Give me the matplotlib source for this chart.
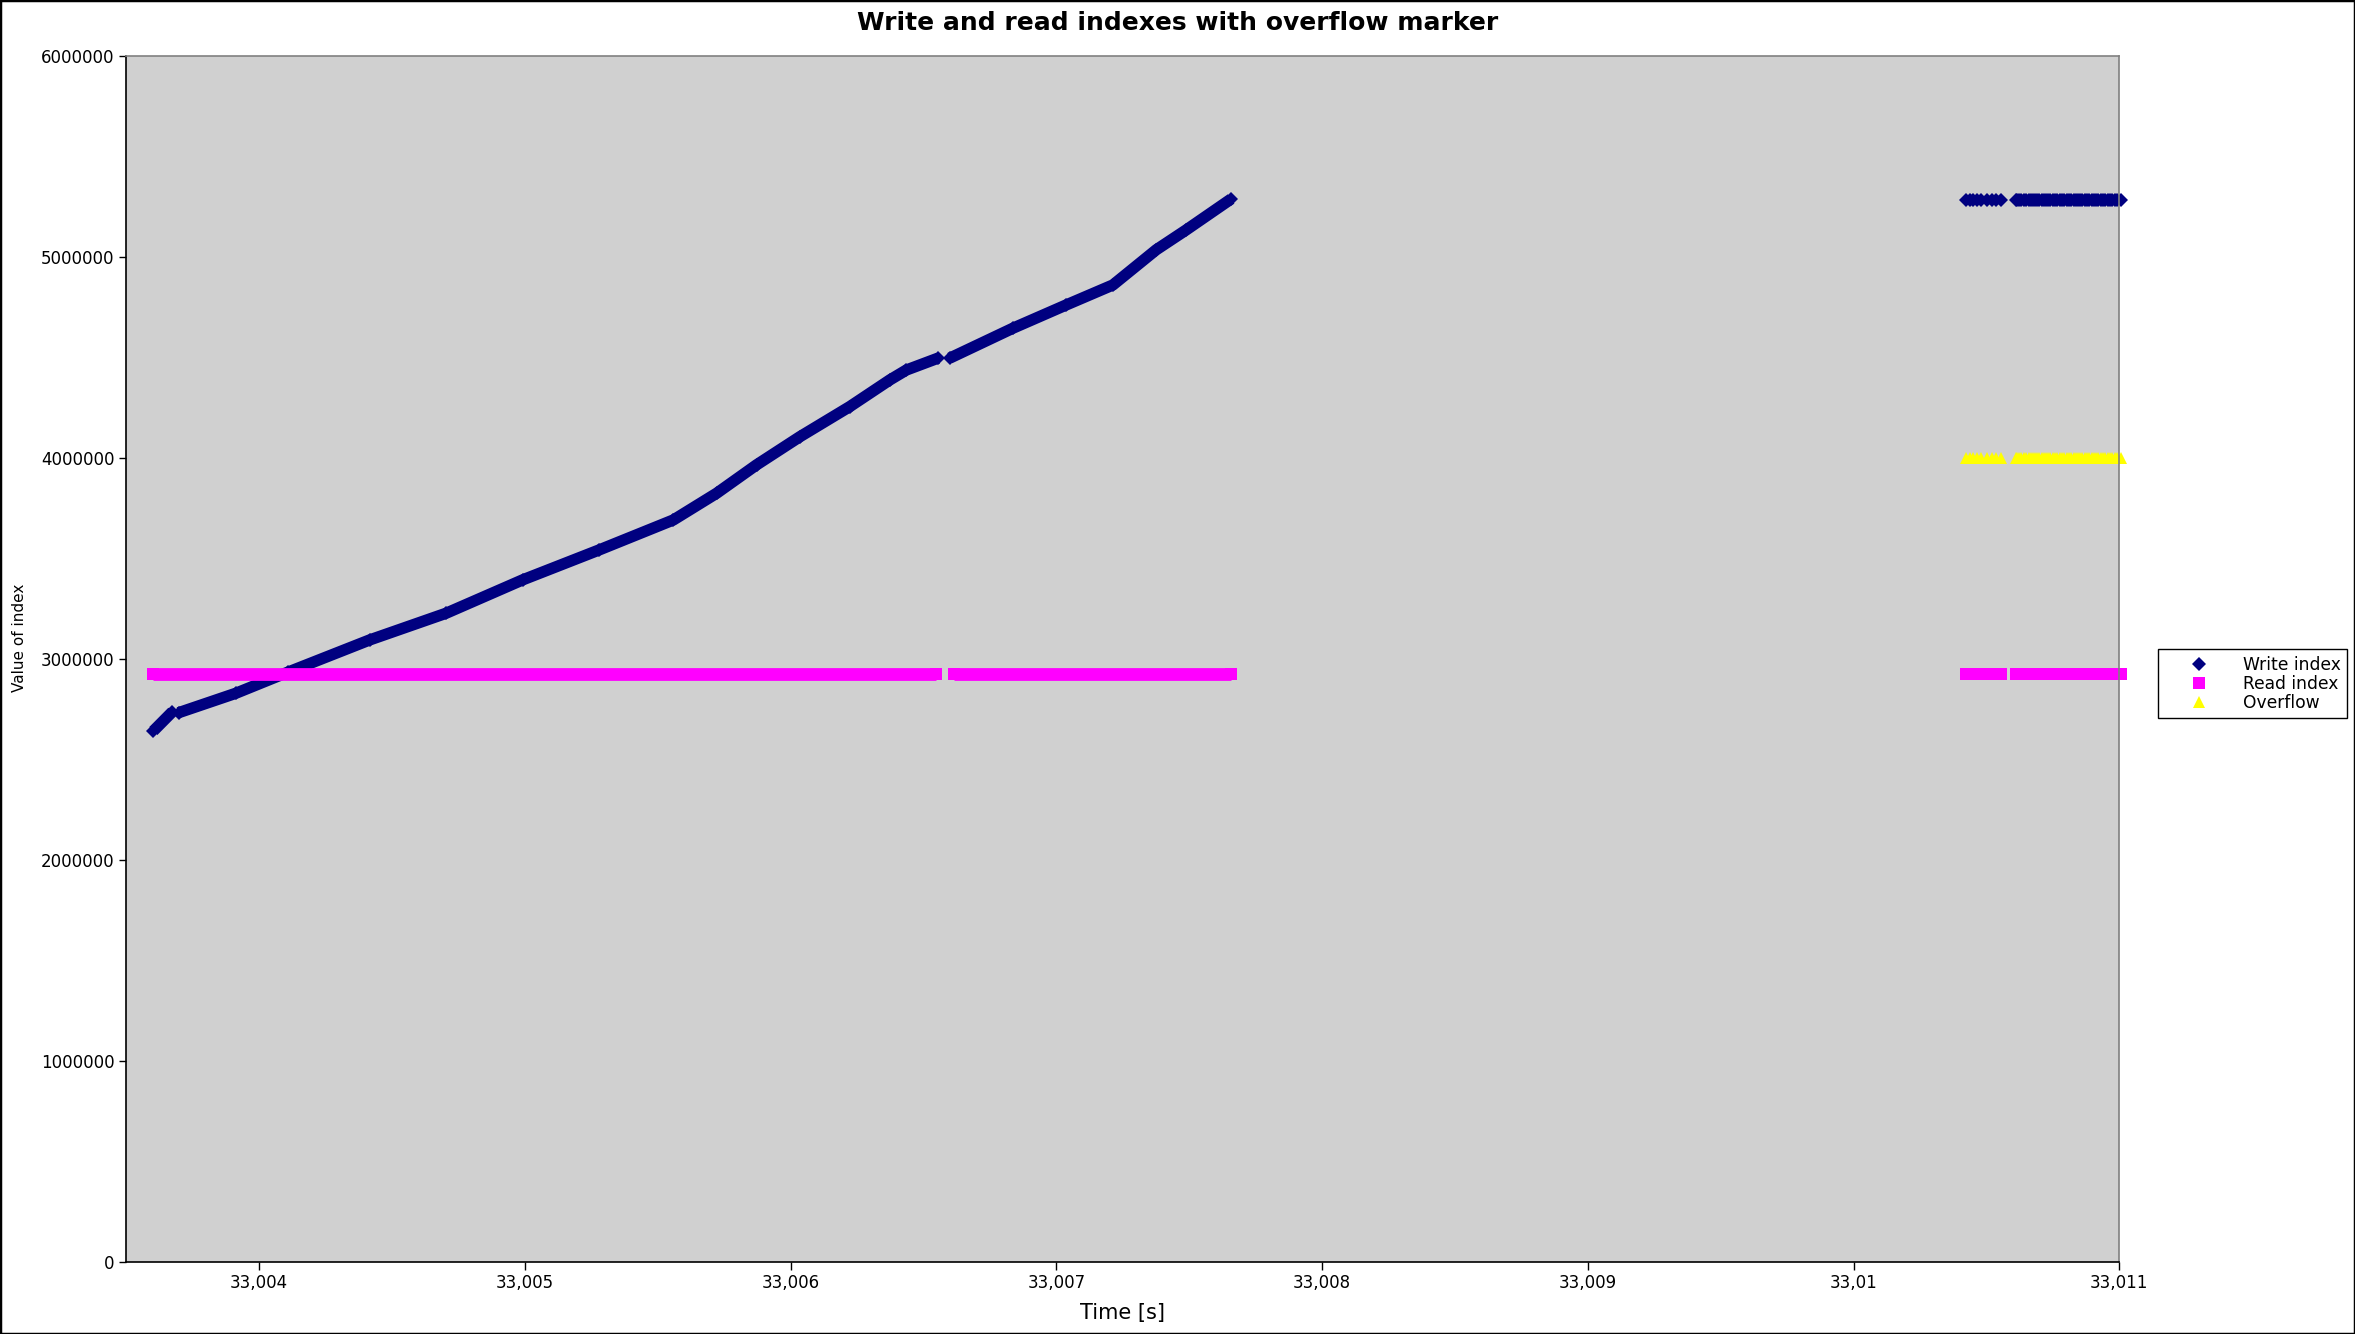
import matplotlib
matplotlib.use("Agg")
import matplotlib.pyplot as plt
from matplotlib.lines import Line2D
from matplotlib.patches import Rectangle

# ---------------- data ----------------
series_names = ["Write index", "Read index", "Overflow"]

# Write index, left run, split at the gaps
write_t_seg1 = [33.003602, 33.003674]
write_v_seg1 = [2640000, 2736000]
write_t_seg2 = [33.003697, 33.003913, 33.004107, 33.004416, 33.004704, 33.004992,
                33.005280, 33.005559, 33.005722, 33.005872, 33.006035, 33.006223,
                33.006374, 33.006436, 33.006555]
write_v_seg2 = [2731000, 2828000, 2932000, 3093000, 3226000, 3392000,
                3541000, 3690000, 3823000, 3964000, 4104000, 4254000,
                4387000, 4436000, 4495000]
write_t_seg3 = [33.006599, 33.006837, 33.007038, 33.007213, 33.007376, 33.007489, 33.007658]
write_v_seg3 = [4495000, 4644000, 4760000, 4859000, 5034000, 5133000, 5287000]

# Read index, left run (constant level) – start / end of each run
read_t_segs = [[33.003602, 33.006547], [33.006614, 33.007658]]
read_level = 2922000

# Right group: individual sample times (all three series)
right_t = [33.0104222, 33.0104372, 33.0104508, 33.0104647, 33.0104786, 33.0105034,
           33.0105222, 33.0105373, 33.0105538,
           33.0106106, 33.0106163, 33.0106238, 33.0106313, 33.0106415, 33.0106501,
           33.0106591, 33.0106667, 33.0106753, 33.0106828, 33.0106904, 33.0106990,
           33.0107080, 33.0107156, 33.0107231, 33.0107317, 33.0107404, 33.0107494,
           33.0107581, 33.0107667, 33.0107757, 33.0107844, 33.0107930, 33.0108032,
           33.0108107, 33.0108183, 33.0108277, 33.0108371, 33.0108446, 33.0108521,
           33.0108615, 33.0108709, 33.0108785, 33.0108860, 33.0108954, 33.0109048,
           33.0109123, 33.0109217, 33.0109311, 33.0109386, 33.0109480, 33.0109574,
           33.0109649, 33.0109744, 33.0109838, 33.0109932, 33.0110064]
write_level_right = 5280000
overflow_level = 4000000

x_ticks = [33.004, 33.005, 33.006, 33.007, 33.008, 33.009, 33.010, 33.011]
x_tick_labels = ["33,004", "33,005", "33,006", "33,007", "33,008", "33,009", "33,01", "33,011"]
y_ticks = [0, 1000000, 2000000, 3000000, 4000000, 5000000, 6000000]
y_tick_labels = ["0", "1000000", "2000000", "3000000", "4000000", "5000000", "6000000"]

# ---------------- styling ----------------
NAVY = "#000080"
MAGENTA = "#FF00FF"
YELLOW = "#FFFF00"
W, H = 2355, 1334

fig = plt.figure(figsize=(W / 100, H / 100), dpi=100)
fig.patch.set_facecolor("white")
ax = fig.add_axes([126.2 / W, 1 - 1261.7 / H, (2119.3 - 126.2) / W, (1261.7 - 55.6) / H])
ax.set_facecolor("#D0D0D0")

D_MS, S_MS, T_MS = 7.4, 9.2, 9.2
WRITE_LW = 8.2

# write index
for t, v in [(write_t_seg1, write_v_seg1), (write_t_seg2, write_v_seg2), (write_t_seg3, write_v_seg3)]:
    ax.plot(t, v, color=NAVY, lw=WRITE_LW, solid_capstyle="butt", solid_joinstyle="round",
            marker="D", ms=D_MS, mew=0, clip_on=False)
ax.plot(right_t, [write_level_right] * len(right_t), ls="none", color=NAVY,
        marker="D", ms=D_MS, mew=0, clip_on=False)

# read index
for seg in read_t_segs:
    ax.plot(seg, [read_level] * len(seg), color=MAGENTA, lw=S_MS, solid_capstyle="butt",
            marker="s", ms=S_MS, mew=0, clip_on=False)
ax.plot(right_t, [read_level] * len(right_t), ls="none", color=MAGENTA,
        marker="s", ms=S_MS, mew=0, clip_on=False)

# overflow
ax.plot(right_t, [overflow_level] * len(right_t), ls="none", color=YELLOW,
        marker="^", ms=T_MS, mew=0, clip_on=False)

ax.set_xlim(33.0035, 33.011)
ax.set_ylim(0, 6000000)
ax.set_xticks(x_ticks)
ax.set_xticklabels(x_tick_labels)
ax.set_yticks(y_ticks)
ax.set_yticklabels(y_tick_labels)
ax.tick_params(direction="out", length=5.4, width=1, pad=3.2, labelsize=12, colors="black")

for side in ["top", "right"]:
    ax.spines[side].set_color("#808080")
    ax.spines[side].set_linewidth(1.2)
for side in ["left", "bottom"]:
    ax.spines[side].set_color("black")
    ax.spines[side].set_linewidth(1.2)

fig.text(0.5, 1 - 22.5 / H, "Write and read indexes with overflow marker",
         ha="center", va="center", fontsize=18, fontweight="bold")
fig.text(1122 / W, 1 - 1313 / H, "Time [s]", ha="center", va="center", fontsize=15)
fig.text(20 / W, 1 - 638 / H, "Value of index", ha="center", va="center",
         rotation=90, fontsize=11)

handles = [
    Line2D([], [], ls="none", marker="D", color=NAVY, ms=D_MS, mew=0),
    Line2D([], [], ls="none", marker="s", color=MAGENTA, ms=S_MS, mew=0),
    Line2D([], [], ls="none", marker="^", color=YELLOW, ms=T_MS, mew=0),
]
leg = fig.legend(handles, series_names, loc="upper left",
                 bbox_to_anchor=(2158 / W, 1 - 649 / H), bbox_transform=fig.transFigure,
                 frameon=True, fancybox=False, edgecolor="black", framealpha=1,
                 fontsize=12.3, borderpad=0.4, handlelength=4, handletextpad=0.55,
                 labelspacing=0.05, borderaxespad=0)
leg.get_frame().set_linewidth(1.0)

fig.add_artist(Rectangle((0, 0), 1, 1, transform=fig.transFigure, fill=False,
                         edgecolor="black", lw=2.5))

fig.savefig("out.png", dpi=100)
